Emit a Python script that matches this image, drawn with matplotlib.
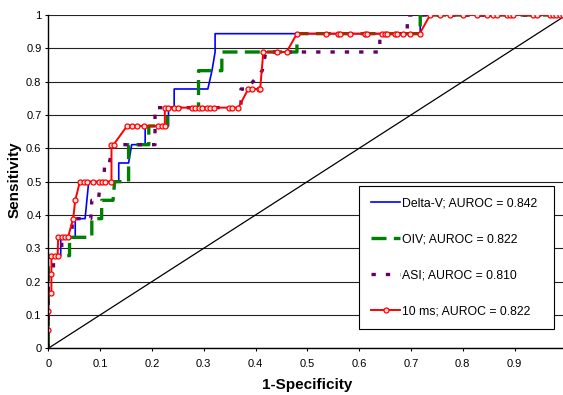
import matplotlib
matplotlib.use("Agg")
import matplotlib.pyplot as plt

plt.rcParams['font.family'] = ['Liberation Sans', 'DejaVu Sans']

# ---- data ----
dv_x = [0, 0, 0.024, 0.024, 0.052, 0.052, 0.071, 0.078, 0.136, 0.136, 0.155, 0.161,
        0.187, 0.187, 0.232, 0.232, 0.243, 0.243, 0.308, 0.316, 0.322, 0.322, 0.718, 0.718, 1.0]
dv_y = [0, 0.278, 0.278, 0.333, 0.333, 0.389, 0.389, 0.5, 0.5, 0.556, 0.556, 0.611,
        0.611, 0.667, 0.667, 0.722, 0.722, 0.778, 0.778, 0.833, 0.889, 0.944, 0.944, 1.0, 1.0]

oiv_x = [0, 0, 0.041, 0.041, 0.084, 0.084, 0.103, 0.103, 0.125, 0.128, 0.155, 0.155,
         0.194, 0.194, 0.230, 0.230, 0.290, 0.290, 0.335, 0.335, 0.480, 0.480, 0.718, 0.718, 1.0]
oiv_y = [0, 0.278, 0.278, 0.333, 0.333, 0.389, 0.389, 0.444, 0.444, 0.5, 0.5, 0.611,
         0.611, 0.667, 0.667, 0.722, 0.722, 0.833, 0.833, 0.889, 0.889, 0.944, 0.944, 1.0, 1.0]

asi_x = [0, 0, 0.010, 0.010, 0.026, 0.026, 0.046, 0.046, 0.082, 0.084, 0.097, 0.100,
         0.107, 0.109, 0.118, 0.124, 0.206, 0.206, 0.372, 0.372, 0.383, 0.413, 0.420,
         0.640, 0.640, 0.693, 0.693, 1.0]
asi_y = [0, 0.222, 0.222, 0.278, 0.278, 0.333, 0.333, 0.389, 0.389, 0.444, 0.444, 0.5,
         0.5, 0.556, 0.556, 0.611, 0.611, 0.722, 0.722, 0.778, 0.778, 0.833, 0.889,
         0.889, 0.944, 0.944, 1.0, 1.0]

ms_x = [0, 0, 0, 0.006, 0.006, 0.006, 0.012, 0.018, 0.019, 0.026, 0.032, 0.038,
        0.048, 0.052, 0.061, 0.068, 0.074, 0.087, 0.097, 0.103, 0.109, 0.122,
        0.122, 0.126, 0.152, 0.162, 0.172, 0.184, 0.212, 0.219, 0.225,
        0.225, 0.232, 0.242, 0.251, 0.277, 0.283, 0.290, 0.296, 0.306, 0.312, 0.319,
        0.348, 0.354, 0.367, 0.386, 0.393, 0.406, 0.409, 0.415, 0.441, 0.460,
        0.480, 0.537, 0.560, 0.563, 0.582, 0.611, 0.615, 0.644, 0.650, 0.653,
        0.669, 0.673, 0.685, 0.698, 0.717,
        0.737, 0.756, 0.776, 0.801, 0.827, 0.846, 0.859, 0.866, 0.885, 0.891,
        0.898, 0.936, 0.943, 0.969, 0.975, 0.981, 0.988, 0.994]
ms_y = [0.056, 0.111, 0.167, 0.167, 0.222, 0.278, 0.278, 0.278, 0.333, 0.333, 0.333, 0.333,
        0.389, 0.444, 0.5, 0.5, 0.5, 0.5, 0.5, 0.5, 0.5, 0.5,
        0.611, 0.611, 0.667, 0.667, 0.667, 0.667, 0.667, 0.667, 0.667,
        0.722, 0.722, 0.722, 0.722, 0.722, 0.722, 0.722, 0.722, 0.722, 0.722, 0.722,
        0.722, 0.722, 0.722, 0.778, 0.778, 0.778, 0.778, 0.889, 0.889, 0.889,
        0.944, 0.944, 0.944, 0.944, 0.944, 0.944, 0.944, 0.944, 0.944, 0.944,
        0.944, 0.944, 0.944, 0.944, 0.944,
        1, 1, 1, 1, 1, 1, 1, 1, 1, 1,
        1, 1, 1, 1, 1, 1, 1, 1]

ref_x = [0, 1]
ref_y = [0, 1]

labels = ["Delta-V; AUROC = 0.842", "OIV; AUROC = 0.822",
          "ASI; AUROC = 0.810", "10 ms; AUROC = 0.822"]
xticks = [0, 0.1, 0.2, 0.3, 0.4, 0.5, 0.6, 0.7, 0.8, 0.9]
xtick_labels = ["0", "0.1", "0.2", "0.3", "0.4", "0.5", "0.6", "0.7", "0.8", "0.9"]
yticks = [0, 0.1, 0.2, 0.3, 0.4, 0.5, 0.6, 0.7, 0.8, 0.9, 1.0]
ytick_labels = ["0", "0.1", "0.2", "0.3", "0.4", "0.5", "0.6", "0.7", "0.8", "0.9", "1"]

# ---- figure ----
W, H = 563, 395
fig = plt.figure(figsize=(W / 100, H / 100), dpi=100)
ax_l, ax_b, ax_w, ax_h = 48.3, 395 - 348.3, 518.0, 333.3
ax = fig.add_axes([ax_l / W, ax_b / H, ax_w / W, ax_h / H])

ax.set_xlim(0, 1)
ax.set_ylim(0, 1)

ax.set_axisbelow(True)
ax.yaxis.grid(True, color='#222222', linewidth=0.8)
ax.xaxis.grid(False)

ax.plot(ref_x, ref_y, color='black', linewidth=0.9, zorder=2)
ax.plot(dv_x, dv_y, color='#0000FF', linewidth=1.2, label=labels[0], zorder=3)
ax.plot(oiv_x, oiv_y, color='#008000', linewidth=2.4, dashes=(4.5, 2.2),
        dash_capstyle='butt', label=labels[1], zorder=4)
ax.plot(asi_x, asi_y, color='#660066', linewidth=2.4, dashes=(1.3, 3.0),
        dash_capstyle='butt', label=labels[2], zorder=5)
ax.plot(ms_x, ms_y, color='#FF0000', linewidth=1.4, marker='o', markersize=3.6,
        markerfacecolor='#FFE0E0', markeredgecolor='#FF0000', markeredgewidth=0.9,
        label=labels[3], zorder=6)

for s in ['top', 'right']:
    ax.spines[s].set_visible(False)
for s in ['left', 'bottom']:
    ax.spines[s].set_color('black')
    ax.spines[s].set_linewidth(1.0)
    ax.spines[s].set_zorder(7)

ax.set_xticks(xticks)
ax.set_xticklabels(xtick_labels)
ax.set_yticks(yticks)
ax.set_yticklabels(ytick_labels)
ax.tick_params(axis='both', direction='out', length=2.5, width=0.8,
               labelsize=8, colors='black')
ax.tick_params(axis='x', pad=5)
ax.tick_params(axis='y', pad=2.4)

ax.set_xlabel('1-Specificity', fontsize=11, fontweight='bold', va='baseline')
ax.xaxis.set_label_coords((307.5 - ax_l) / ax_w, (348.3 - 388.5) / ax_h)
ax.set_ylabel('Sensitivity', fontsize=11, fontweight='bold', va='center')
ax.yaxis.set_label_coords((15.0 - ax_l) / ax_w, (348.3 - 180.0) / ax_h)

leg_x0 = (359.3 - ax_l) / ax_w
leg_x1 = (554.0 - ax_l) / ax_w
leg_y1 = (348.3 - 186.0) / ax_h
leg = ax.legend(loc='upper left', bbox_to_anchor=(leg_x0, leg_y1 - 0.45, leg_x1 - leg_x0, 0.45),
                mode='expand', fontsize=8.8, frameon=True, fancybox=False,
                edgecolor='black', framealpha=1.0, borderpad=0.95,
                labelspacing=1.95, handlelength=2.4, handletextpad=0.18,
                borderaxespad=0.0, numpoints=1)
leg.get_frame().set_linewidth(0.8)
leg.set_zorder(10)

fig.savefig('out.png', dpi=100)
